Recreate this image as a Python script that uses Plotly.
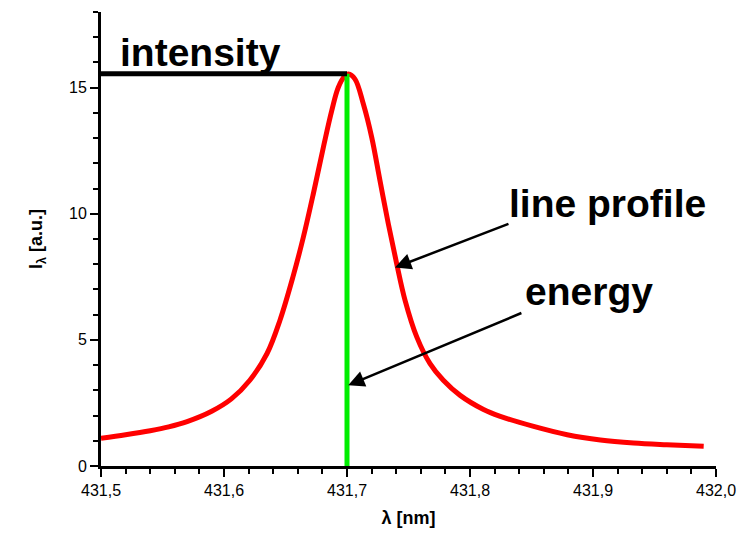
import plotly.graph_objects as go

# Spectral line profile (wavelength in nm, intensity in arbitrary units)
wavelength = [431.500, 431.520, 431.540, 431.555, 431.570, 431.590, 431.606, 431.621,
              431.635, 431.6455, 431.656, 431.6645, 431.6726, 431.6808, 431.6876, 431.6929,
              431.6984, 431.7011, 431.7065, 431.7133, 431.7201, 431.7268, 431.7336, 431.7404,
              431.7472, 431.7567, 431.7675, 431.7783, 431.792, 431.811, 431.824, 431.851,
              431.879, 431.906, 431.933, 431.960, 431.990]
intensity = [1.10, 1.24, 1.40, 1.55, 1.76, 2.17, 2.66, 3.40,
             4.46, 5.78, 7.49, 9.07, 10.79, 12.64, 14.09, 15.01,
             15.47, 15.54, 15.34, 14.35, 13.03, 11.32, 9.60, 8.02,
             6.57, 5.12, 4.06, 3.40, 2.80, 2.24, 1.98, 1.58,
             1.24, 1.03, 0.91, 0.84, 0.78]

# Line centre and its peak intensity
peak_wavelength = 431.70
peak_intensity = 15.55

x_range = [431.5, 432.0]
y_range = [0, 18]
x_ticks = [431.5, 431.6, 431.7, 431.8, 431.9, 432.0]
y_ticks = [0, 5, 10, 15]

FONT = "Arial, Liberation Sans, sans-serif"

fig = go.Figure()

fig.add_trace(go.Scatter(
    x=wavelength, y=intensity, mode="lines",
    line=dict(color="#ff0000", width=5, shape="spline", smoothing=1.0),
    hoverinfo="skip"))

# Vertical "energy" line at the line centre
fig.add_trace(go.Scatter(
    x=[peak_wavelength, peak_wavelength], y=[0, peak_intensity], mode="lines",
    line=dict(color="#00ee00", width=5), hoverinfo="skip"))

# Horizontal "intensity" level
fig.add_trace(go.Scatter(
    x=[x_range[0], peak_wavelength], y=[peak_intensity, peak_intensity], mode="lines",
    line=dict(color="black", width=5), hoverinfo="skip"))

label_font = dict(family=FONT, size=39, color="black")

fig.add_annotation(x=431.581, y=16.38, xref="x", yref="y",
                   text="<b>intensity</b>", showarrow=False,
                   font=label_font, xanchor="center", yanchor="middle")

fig.add_annotation(x=431.912, y=10.39, xref="x", yref="y",
                   text="<b>line profile</b>", showarrow=False,
                   font=label_font, xanchor="center", yanchor="middle")

fig.add_annotation(x=431.897, y=6.9, xref="x", yref="y",
                   text="<b>energy</b>", showarrow=False,
                   font=label_font, xanchor="center", yanchor="middle")

# Arrows pointing at the profile and at the energy line
fig.add_annotation(x=431.739, y=7.87, ax=431.8325, ay=9.62,
                   xref="x", yref="y", axref="x", ayref="y",
                   text="", showarrow=True, arrowhead=2, arrowsize=1.3,
                   arrowwidth=2.5, arrowcolor="black")

fig.add_annotation(x=431.701, y=3.2, ax=431.843, ay=6.09,
                   xref="x", yref="y", axref="x", ayref="y",
                   text="", showarrow=True, arrowhead=2, arrowsize=1.3,
                   arrowwidth=2.5, arrowcolor="black")

axis_common = dict(
    showline=True, linecolor="black", linewidth=3,
    showgrid=False, zeroline=False, mirror=False, automargin=False,
    ticks="outside", ticklen=8, tickwidth=2, tickcolor="black",
    tickfont=dict(family=FONT, size=16, color="black"),
)

fig.update_xaxes(
    range=x_range, tickvals=x_ticks, tickformat=".1f",
    minor=dict(dtick=0.02, ticks="outside", ticklen=5, tickwidth=2, tickcolor="black"),
    title=dict(text="<b>λ [nm]</b>", font=dict(family=FONT, size=18, color="black"),
               standoff=14),
    **axis_common)

fig.update_yaxes(
    range=y_range, tickvals=y_ticks,
    minor=dict(dtick=1, ticks="outside", ticklen=5, tickwidth=2, tickcolor="black"),
    title=dict(text="<b>I<sub>λ</sub> [a.u.]</b>",
               font=dict(family=FONT, size=18, color="black"), standoff=22),
    **axis_common)

fig.update_layout(
    width=745, height=534,
    margin=dict(l=101, r=29, t=12, b=68),
    paper_bgcolor="white", plot_bgcolor="white",
    showlegend=False, separators=",.",
)

fig.write_html("out.html")
